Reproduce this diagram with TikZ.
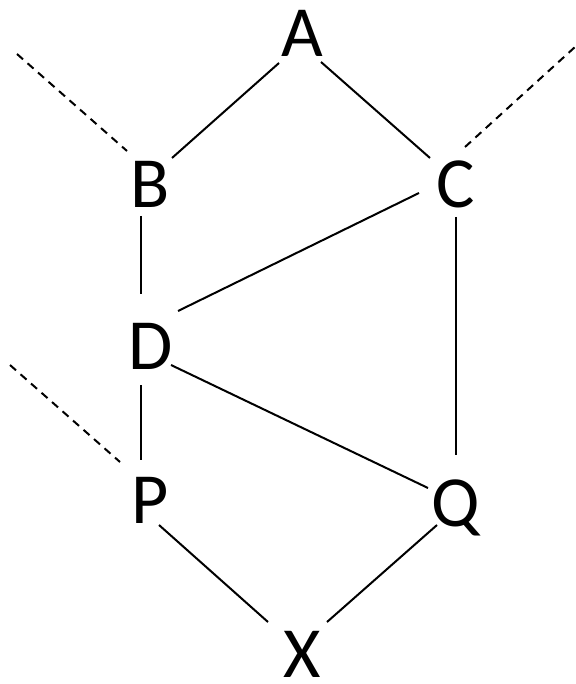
\documentclass[tikz,border=0pt]{standalone}
\usepackage{fontspec}
\setmainfont{Carlito}
\usetikzlibrary{calc}
\begin{document}
\begin{tikzpicture}[x=1pt,y=-1pt,
  lbl/.style={inner sep=0pt,anchor=base,font=\fontsize{72}{72}\selectfont},
  edge/.style={line width=2pt},
  open/.style={line width=2pt,dash pattern=on 8pt off 6pt}]
\useasboundingbox (0,0) rectangle (575,684);
% vertices (placed at their baselines)
\node[lbl] (A) at (302,57) {A};
\node[lbl] (B) at (150,208) {B};
\node[lbl] (C) at (456,208) {C};
\node[lbl] (D) at (151,369) {D};
\node[lbl] (P) at (150,523) {P};
\node[lbl] (Q) at (456,526) {Q};
\node[lbl] (X) at (302,677) {X};
% loose ends leaving the graph
\coordinate (bout) at (17,54);
\coordinate (cout) at (575,47);
\coordinate (pout) at (10,365);
% edges
\draw[edge] ($(A.base)+(-23,6)$) -- ($(B.base)+(22,-50)$);
\draw[edge] ($(A.base)+(19,5)$) -- ($(C.base)+(-26,-50)$);
\draw[edge] ($(B.base)+(-9,8)$) -- ($(D.base)+(-10,-75)$);
\draw[edge] ($(C.base)+(-37,-15)$) -- ($(D.base)+(27,-58)$);
\draw[edge] ($(C.base)+(0,9)$) -- ($(Q.base)+(0,-71)$);
\draw[edge] ($(D.base)+(-10,16)$) -- ($(P.base)+(-9,-63)$);
\draw[edge] ($(D.base)+(20,-4)$) -- ($(Q.base)+(-28,-38)$);
\draw[edge] ($(P.base)+(9,2)$) -- ($(X.base)+(-34,-55)$);
\draw[edge] ($(Q.base)+(-19,-1)$) -- ($(X.base)+(25,-55)$);
% dashed stubs
\draw[open] (bout) -- ($(B.base)+(-23,-57)$);
\draw[open] ($(C.base)+(9,-61)$) -- (cout);
\draw[open] (pout) -- ($(P.base)+(-30,-61)$);
\end{tikzpicture}
\end{document}
